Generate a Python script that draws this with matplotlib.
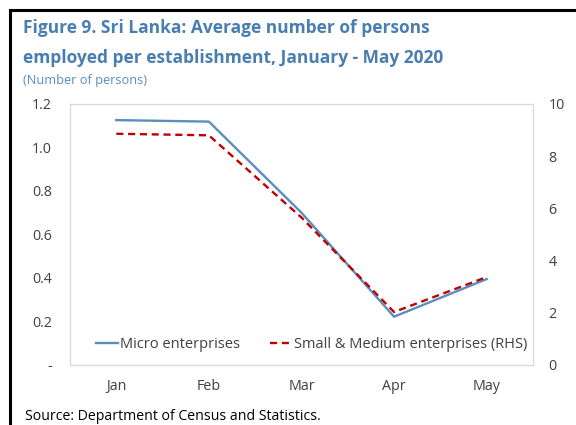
import matplotlib.pyplot as plt
from matplotlib.lines import Line2D
import numpy as np

months = ['Jan', 'Feb', 'Mar', 'Apr', 'May']
micro = [1.126, 1.119, 0.70, 0.222, 0.395]
sme = [8.86, 8.80, 5.65, 2.03, 3.37]

left_ticks = [0, 0.2, 0.4, 0.6, 0.8, 1.0, 1.2]
left_labels = ['-', '0.2', '0.4', '0.6', '0.8', '1.0', '1.2']
right_ticks = [0, 2, 4, 6, 8, 10]

plt.rcParams['font.family'] = ['Open Sans', 'DejaVu Sans']

title_col = '#4A7EB0'
txt_col = '#404040'

fig = plt.figure(figsize=(5.76, 4.25), dpi=100)
ax = fig.add_axes([0.1215, 0.1412, 0.8038, 0.6141])
ax2 = ax.twinx()

x = np.arange(len(months))
l1, = ax.plot(x, micro, color='#5B8EC0', lw=1.7, label='Micro enterprises')
l2, = ax2.plot(x, sme, color='#C00000', lw=1.7, ls=(0, (3, 2)),
               label='Small & Medium enterprises (RHS)')

ax.set_xlim(-0.5, 4.5)
ax.set_ylim(0, 1.2)
ax2.set_ylim(0, 10)
ax.set_xticks(x)
ax.set_xticklabels(months)
ax.set_yticks(left_ticks)
ax.set_yticklabels(left_labels)
ax2.set_yticks(right_ticks)

ax.tick_params(axis='x', length=0, pad=10, labelsize=10.3, labelcolor=txt_col)
ax.tick_params(axis='y', length=0, pad=13, labelsize=10.3, labelcolor=txt_col)
ax2.tick_params(axis='y', length=0, pad=11, labelsize=10.3, labelcolor=txt_col)

for a in (ax, ax2):
    for s in a.spines.values():
        s.set_color('#D9D9D9')
        s.set_linewidth(0.8)

leg = ax.legend(handles=[l1, l2], loc='lower center', ncol=2, frameon=False,
                fontsize=10.5, handlelength=1.5, handletextpad=0.15,
                columnspacing=2.0, bbox_to_anchor=(0.522, 0.0))
for t in leg.get_texts():
    t.set_color(txt_col)

fig.text(23/576, 1 - 33/425, 'Figure 9. Sri Lanka: Average number of persons',
         fontsize=12.5, fontweight='bold', color=title_col, va='baseline')
fig.text(23/576, 1 - 63/425, 'employed per establishment, January - May 2020',
         fontsize=12.5, fontweight='bold', color=title_col, va='baseline')
fig.text(23/576, 1 - 84/425, '(Number of persons)', fontsize=9.2,
         color='#5B8EC0', va='baseline')
fig.text(25/576, 1 - 420/425, 'Source: Department of Census and Statistics.',
         fontsize=10.2, color='black', va='baseline')

# document frame lines (left and top)
fig.add_artist(Line2D([10/576, 10/576], [0, 1 - 10/425], color='black', lw=2.2,
                      transform=fig.transFigure))
fig.add_artist(Line2D([10/576, 1], [1 - 10/425, 1 - 10/425], color='black',
                      lw=2.2, transform=fig.transFigure))

fig.savefig('out.png', dpi=100)
